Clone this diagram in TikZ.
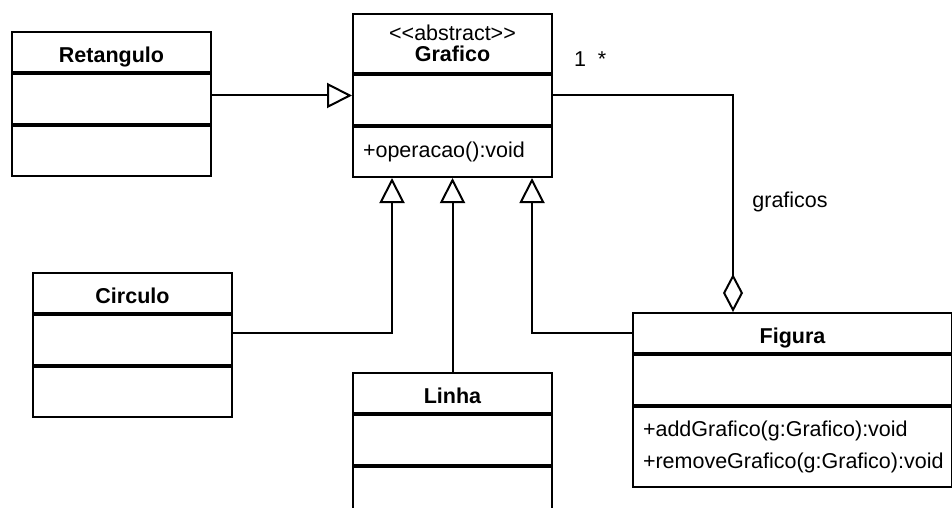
\documentclass[tikz,border=0pt]{standalone}
\usepackage{fontspec}
\setmainfont{Liberation Sans}
\usepackage{tikz}
\usetikzlibrary{arrows.meta, positioning, calc}

\begin{document}
\begin{tikzpicture}[x=0.5pt, y=-0.5pt,
    font=\fontsize{10.75}{16}\selectfont,
    cname/.style={draw, line width=1pt, minimum width=99.5pt, minimum height=20pt,
                  inner sep=0pt, font=\fontsize{10.75}{16}\selectfont\bfseries},
    ctitle/.style={cname, text height=10.2pt, text depth=0pt},
    cpart/.style={draw, line width=1pt, minimum width=99.5pt, minimum height=25pt, inner sep=0pt},
    cops/.style={cpart, inner xsep=5pt, text width=89.5pt, align=left},
    inherit/.style={draw, line width=1pt, -{Triangle[open, length=12.5pt, width=12.5pt]}},
    aggr/.style={draw, line width=1pt, -{Diamond[open, length=19pt, width=10pt]}},
    lbl/.style={inner sep=0pt}]
  \clip (0,0) rectangle (952,508);

  \node[ctitle, anchor=north west] (retN) at (11,31) {Retangulo};
  \node[cpart, below=0pt of retN] (retA) {};
  \node[cpart, below=0pt of retA] (retO) {};

  \node[cname, anchor=north west, minimum height=29.5pt, align=center,
        font=\fontsize{10.75}{10.5}\selectfont] (grafN) at (352,13)
       {<{}<abstract>{}>\\\textbf{Grafico}};
  \node[cpart, below=0pt of grafN] (grafA) {};
  \node[cops, below=0pt of grafA] (grafO) {+operacao():void};

  \node[ctitle, anchor=north west] (cirN) at (32,272) {Circulo};
  \node[cpart, below=0pt of cirN] (cirA) {};
  \node[cpart, below=0pt of cirA] (cirO) {};

  \node[ctitle, anchor=north west] (linN) at (352,372) {Linha};
  \node[cpart, below=0pt of linN] (linA) {};
  \node[cpart, below=0pt of linA] (linO) {};

  \node[ctitle, anchor=north west, minimum width=159.5pt] (figN) at (632,312) {Figura};
  \node[cpart, below=0pt of figN, minimum width=159.5pt] (figA) {};
  \node[cops, below=0pt of figA, text width=149.5pt, minimum height=40pt] (figO)
       {+addGrafico(g:Grafico):void\\+removeGrafico(g:Grafico):void};

  \coordinate (grafW) at ($(grafN.north west)!.5!(grafO.south west)$);
  \coordinate (grafE) at ($(grafN.north east)!.5!(grafO.south east)$);

  \draw[inherit] (retA.east |- grafW) -- (grafW);
  \draw[inherit] (cirA.east |- figN.west) -| ($(grafO.south west)+(40,0)$);
  \draw[inherit] (linN.north) -- (linN.north |- grafO.south);
  \draw[inherit] (figN.west) -| ($(grafO.south west)+(180,0)$);
  \draw[aggr] (grafE) -| ($(figN.north west)+(101,0)$);

  \node[lbl, anchor=base] (multOne) at (580,67) {1};
  \node[lbl, anchor=base] (multMany) at (602,67) {*};
  \node[lbl, anchor=west] (roleLbl) at (752,202) {graficos};
\end{tikzpicture}
\end{document}
